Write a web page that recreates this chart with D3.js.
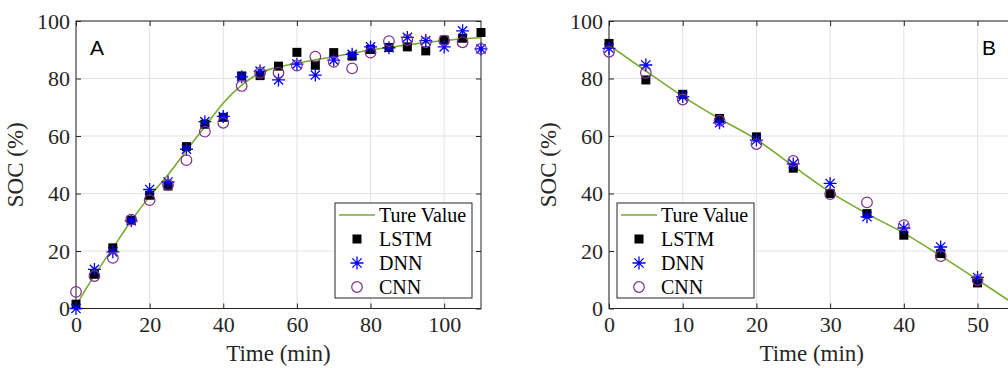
<!DOCTYPE html>
<html>
<head>
<meta charset="utf-8">
<script src="https://cdn.jsdelivr.net/npm/d3@7"></script>
<style>
  body { margin: 0; background: #fff; }
  svg { display: block; }
</style>
</head>
<body>
<svg id="chart" width="1008" height="368"></svg>
<script>
// ---------------------------------------------------------------
// Data (SOC % against time in minutes)

const timeA = [0, 5, 10, 15, 20, 25, 30, 35, 40, 45, 50, 55, 60, 65, 70, 75, 80, 85, 90, 95, 100, 105, 110];
const trueA = [1, 11.5, 21, 30.5, 39, 46.5, 55, 63.2, 71.5, 77.7, 82, 84, 85.3, 86.5, 87.6, 88.8, 89.9, 90.8, 91.7, 92.5, 93.2, 93.8, 94.2];
const lstmA = [1.5, 11.9, 21.1, 30.7, 39.4, 42.6, 56.3, 64.1, 66.5, 80.9, 81, 84.3, 89.1, 84.6, 89, 87.8, 90.1, 90.8, 91, 89.6, 93.4, 94, 96];
const dnnA  = [0, 13.6, 19.7, 30.5, 41.4, 44, 55.4, 65, 66.8, 80.6, 82.6, 79.5, 85, 81.2, 86.4, 88.4, 91, 90.7, 94.3, 93.2, 91, 96.6, 90.3];
const cnnA  = [5.8, 11.3, 17.6, 30.9, 37.7, 43, 51.6, 61.5, 64.6, 77.4, 82, 82, 84.5, 87.6, 85.8, 83.5, 89, 93, 93.4, 92.6, 93.2, 92.6, 90.3];

const timeB = [0, 5, 10, 15, 20, 25, 30, 35, 40, 45, 50, 55];
const trueB = [91.6, 82.6, 73.8, 66, 58.8, 49.5, 40.5, 33, 26.2, 18.3, 10, 1.5];
const lstmB = [92.2, 79.5, 74.5, 66.1, 59.7, 48.8, 40, 33, 25.5, 19.1, 8.9];
const dnnB  = [90.5, 84.7, 73.7, 64.6, 58.6, 50.3, 43.5, 31.9, 28, 21.4, 10.8];
const cnnB  = [89.3, 82, 72.7, 65.3, 57.2, 51.3, 39.8, 36.9, 29, 18.2, 9.9];

const xTicksA = [0, 20, 40, 60, 80, 100];
const xTicksB = [0, 10, 20, 30, 40, 50];
const yTicks  = [0, 20, 40, 60, 80, 100];

const legendNames = ["Ture Value", "LSTM", "DNN", "CNN"];

// ---------------------------------------------------------------

const svg = d3.select("#chart");
const serif = "'Liberation Serif', 'Times New Roman', serif";
const sans = "'Liberation Sans', Arial, sans-serif";
const axisColor = "#262626";
const gridColor = "#e3e3e3";
const lineGreen = "#77AC30";
const purple = "#7E2F8E";
const blue = "#0000ff";

// asterisk marker path (MATLAB '*')
function starPath(r) {
  const d = r * Math.SQRT1_2;
  return `M${-r},0L${r},0M0,${-r}L0,${r}M${-d},${-d}L${d},${d}M${-d},${d}L${d},${-d}`;
}

function drawMarker(g, kind, x, y) {
  if (kind === "square") {
    g.append("rect")
      .attr("x", x - 4.5).attr("y", y - 4.5)
      .attr("width", 9).attr("height", 9)
      .attr("fill", "#000");
  } else if (kind === "star") {
    g.append("path")
      .attr("transform", `translate(${x},${y})`)
      .attr("d", starPath(6.5))
      .attr("stroke", blue).attr("stroke-width", 1.3).attr("fill", "none");
  } else {
    g.append("circle")
      .attr("cx", x).attr("cy", y).attr("r", 5.3)
      .attr("stroke", purple).attr("stroke-width", 1.2).attr("fill", "none");
  }
}

function drawPanel(p) {
  const x = d3.scaleLinear().domain(p.xDomain).range(p.xRange);
  const y = d3.scaleLinear().domain([0, 100]).range([308.5, 21]);
  const g = svg.append("g");

  // grid
  g.selectAll(null).data(p.xTicks).enter().append("line")
    .attr("x1", d => x(d)).attr("x2", d => x(d))
    .attr("y1", y(0)).attr("y2", y(100))
    .attr("stroke", gridColor).attr("stroke-width", 1);
  g.selectAll(null).data(yTicks).enter().append("line")
    .attr("x1", x.range()[0]).attr("x2", x.range()[1])
    .attr("y1", d => y(d)).attr("y2", d => y(d))
    .attr("stroke", gridColor).attr("stroke-width", 1);

  // axes (ticks inside, mirrored on top / right)
  const styleAxis = sel => {
    sel.attr("font-family", null).attr("font-size", null);
    sel.select(".domain").remove();
    sel.selectAll(".tick line").attr("stroke", axisColor);
    sel.selectAll(".tick text")
      .style("font-family", serif).style("font-size", "22px").attr("fill", "#262626");
  };
  g.append("g").attr("transform", `translate(0,${y(0)})`)
    .call(d3.axisBottom(x).tickValues(p.xTicks).tickSizeInner(-5).tickSizeOuter(0).tickPadding(8))
    .call(styleAxis);
  g.append("g").attr("transform", `translate(${x.range()[0]},0)`)
    .call(d3.axisLeft(y).tickValues(yTicks).tickSizeInner(-5).tickSizeOuter(0).tickPadding(6))
    .call(styleAxis);
  g.append("g").attr("transform", `translate(0,${y(100)})`)
    .call(d3.axisTop(x).tickValues(p.xTicks).tickSizeInner(-5).tickSizeOuter(0).tickFormat(""))
    .call(styleAxis);
  g.append("g").attr("transform", `translate(${x.range()[1]},0)`)
    .call(d3.axisRight(y).tickValues(yTicks).tickSizeInner(-5).tickSizeOuter(0).tickFormat(""))
    .call(styleAxis);

  // box
  g.append("rect")
    .attr("x", x.range()[0]).attr("y", y(100))
    .attr("width", x.range()[1] - x.range()[0]).attr("height", y(0) - y(100))
    .attr("fill", "none").attr("stroke", axisColor).attr("stroke-width", 1);

  // true value line
  const line = d3.line().x((d, i) => x(p.time[i])).y(d => y(d)).curve(d3.curveMonotoneX);
  g.append("path").datum(p.trueVals)
    .attr("d", line).attr("fill", "none")
    .attr("stroke", lineGreen).attr("stroke-width", 1.6);

  // predicted series
  const marks = g.append("g");
  [[p.lstm, "square"], [p.dnn, "star"], [p.cnn, "circle"]].forEach(([vals, kind]) => {
    vals.forEach((v, i) => drawMarker(marks, kind, x(p.time[i]), y(v)));
  });

  // panel letter
  g.append("text").attr("x", p.letterX).attr("y", 55)
    .style("font-family", sans).style("font-size", "21px").attr("fill", "#000")
    .text(p.letter);

  // axis labels
  g.append("text")
    .attr("x", (x.range()[0] + x.range()[1]) / 2).attr("y", 361)
    .attr("text-anchor", "middle")
    .style("font-family", serif).style("font-size", "23px").attr("fill", "#262626")
    .text("Time (min)");
  g.append("text")
    .attr("transform", `translate(${x.range()[0] - 53},${(y(0) + y(100)) / 2}) rotate(-90)`)
    .attr("text-anchor", "middle")
    .style("font-family", serif).style("font-size", "23px").attr("fill", "#262626")
    .text("SOC (%)");

  // legend
  const lg = g.append("g").attr("transform", `translate(${p.legendX},203)`);
  lg.append("rect").attr("width", 137).attr("height", 95)
    .attr("fill", "#fff").attr("stroke", axisColor).attr("stroke-width", 1);
  legendNames.forEach((name, i) => {
    const cy = 12 + i * 24;
    if (i === 0) {
      lg.append("line").attr("x1", 4).attr("x2", 40).attr("y1", cy).attr("y2", cy)
        .attr("stroke", lineGreen).attr("stroke-width", 1.6);
    } else {
      drawMarker(lg, ["square", "star", "circle"][i - 1], 22, cy);
    }
    lg.append("text").attr("x", 44).attr("y", cy + 7)
      .style("font-family", serif).style("font-size", "20px").attr("fill", "#000")
      .text(name);
  });
}

drawPanel({
  time: timeA, trueVals: trueA, lstm: lstmA, dnn: dnnA, cnn: cnnA,
  xDomain: [0, 110], xRange: [76, 481], xTicks: xTicksA,
  letter: "A", letterX: 90, legendX: 335
});

drawPanel({
  time: timeB, trueVals: trueB, lstm: lstmB, dnn: dnnB, cnn: cnnB,
  xDomain: [0, 55], xRange: [609, 1014.4], xTicks: xTicksB,
  letter: "B", letterX: 982, legendX: 617
});
</script>
</body>
</html>
